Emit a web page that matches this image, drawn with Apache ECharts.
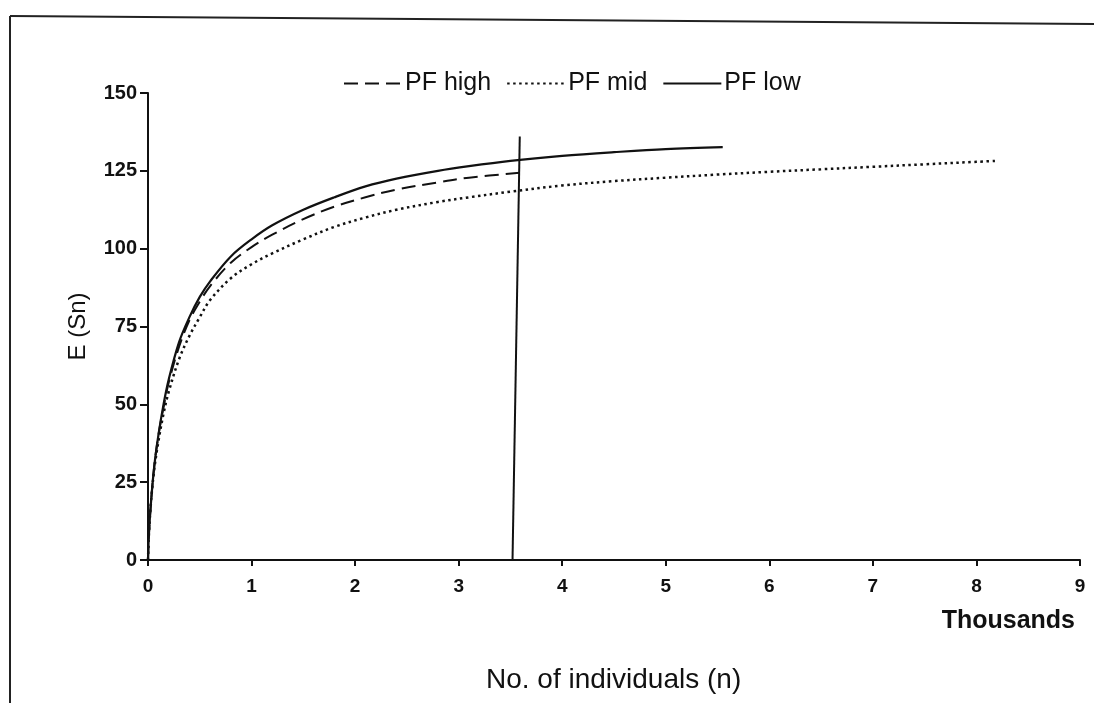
<!DOCTYPE html>
<html>
<head>
<meta charset="utf-8">
<script src="https://cdn.jsdelivr.net/npm/echarts@6/dist/echarts.min.js"></script>
<style>
html,body{margin:0;padding:0;background:#fff;}
#c{width:1094px;height:703px;}
</style>
</head>
<body>
<div id="c"></div>
<script>
// x values in thousands of individuals
const lowX  = [0, 0.01, 0.03, 0.06, 0.1, 0.15, 0.2, 0.3, 0.4, 0.5, 0.6, 0.8, 1.0, 1.2, 1.5, 1.8, 2.1, 2.4, 2.8, 3.1, 3.5, 4.0, 4.5, 5.0, 5.55];
const lowY  = [0, 9, 19, 30, 40, 50, 58, 70, 78, 84.5, 89.5, 97.5, 103, 107.5, 112.5, 116.5, 120, 122.5, 125, 126.5, 128.2, 129.8, 131, 132, 132.6];

const highX = [0, 0.01, 0.03, 0.06, 0.1, 0.15, 0.2, 0.3, 0.4, 0.5, 0.6, 0.8, 1.0, 1.2, 1.5, 1.8, 2.1, 2.4, 2.8, 3.1, 3.6];
const highY = [0, 9, 19, 30, 40, 49, 57, 68.5, 77, 83, 88, 95.5, 100.5, 104.5, 109.5, 113.5, 116.5, 119, 121.3, 122.8, 124.4];

const midX  = [0, 0.01, 0.03, 0.06, 0.1, 0.15, 0.2, 0.3, 0.4, 0.5, 0.6, 0.8, 1.0, 1.2, 1.5, 1.8, 2.1, 2.4, 2.8, 3.1, 3.5, 4.0, 4.5, 5.0, 5.5, 6.0, 6.5, 7.0, 7.5, 8.0, 8.2];
const midY  = [0, 9, 19, 29, 38, 47, 54, 64.5, 72, 78, 83.5, 90.5, 95, 98.5, 103, 107, 110, 112.5, 115, 116.5, 118.3, 120.3, 121.7, 122.8, 123.8, 124.7, 125.5, 126.3, 127.1, 127.9, 128.2];

// vertical reference line
const refX = [3.52, 3.59];
const refY = [0, 136];

const xTicks = ['0','1','2','3','4','5','6','7','8','9'];
const seriesNames = ['PF high', 'PF mid', 'PF low'];

const zip = (xs, ys) => xs.map((x, i) => [x, ys[i]]);
const FONT = '"Liberation Sans", Arial, sans-serif';

const chart = echarts.init(document.getElementById('c'), null, {renderer: 'canvas'});
chart.setOption({
  backgroundColor: '#fff',
  animation: false,
  grid: {left: 148, right: 14, top: 93, bottom: 143},
  legend: {
    data: seriesNames,
    top: 66,
    left: 338,
    itemWidth: 58,
    itemHeight: 14,
    itemGap: 15,
    itemStyle: {opacity: 0},
    textStyle: {fontFamily: FONT, fontSize: 25, color: '#111', padding: [0, 0, 0, -2]}
  },
  xAxis: {
    type: 'value', min: 0, max: 9, interval: 1,
    axisLine: {show: true, lineStyle: {color: '#111', width: 2}},
    axisTick: {show: true, length: 6, lineStyle: {color: '#111', width: 2}},
    splitLine: {show: false},
    axisLabel: {
      margin: 17, fontFamily: FONT, fontSize: 19, fontWeight: 'bold', color: '#111',
      formatter: v => xTicks[Math.round(v)]
    }
  },
  yAxis: {
    type: 'value', min: 0, max: 150, interval: 25,
    name: 'E (Sn)', nameLocation: 'middle', nameGap: 58, nameRotate: 90,
    nameTextStyle: {fontFamily: FONT, fontSize: 24, color: '#111'},
    axisLine: {show: true, lineStyle: {color: '#111', width: 2}},
    axisTick: {show: true, length: 8, lineStyle: {color: '#111', width: 2}},
    splitLine: {show: false},
    axisLabel: {margin: 11, fontFamily: FONT, fontSize: 20, fontWeight: 'bold', color: '#111'}
  },
  series: [
    {
      name: 'PF high', type: 'line', data: zip(highX, highY), symbol: 'none', smooth: 0.35,
      lineStyle: {color: '#111', width: 2, type: [14, 7]}, itemStyle: {color: '#111'}, z: 3
    },
    {
      name: 'PF mid', type: 'line', data: zip(midX, midY), symbol: 'none', smooth: 0.35,
      lineStyle: {color: '#111', width: 2.5, type: [2.5, 3.5]}, itemStyle: {color: '#111'}, z: 3
    },
    {
      name: 'PF low', type: 'line', data: zip(lowX, lowY), symbol: 'none', smooth: 0.35,
      lineStyle: {color: '#111', width: 2.2, type: 'solid'}, itemStyle: {color: '#111'}, z: 3
    },
    {
      name: 'ref', type: 'line', data: zip(refX, refY), symbol: 'none',
      lineStyle: {color: '#111', width: 2}, z: 4, silent: true
    }
  ],
  graphic: [
    {type: 'line', shape: {x1: 10, y1: 16, x2: 1094, y2: 24}, style: {stroke: '#222', lineWidth: 2}},
    {type: 'line', shape: {x1: 10, y1: 16, x2: 10, y2: 703}, style: {stroke: '#222', lineWidth: 2}},
    {type: 'text', right: 19, top: 609, style: {text: 'Thousands', font: 'bold 25px ' + FONT, fill: '#111'}},
    {type: 'text', left: 486, top: 666, style: {text: 'No. of individuals (n)', font: '28px ' + FONT, fill: '#111'}}
  ]
});
</script>
</body>
</html>
